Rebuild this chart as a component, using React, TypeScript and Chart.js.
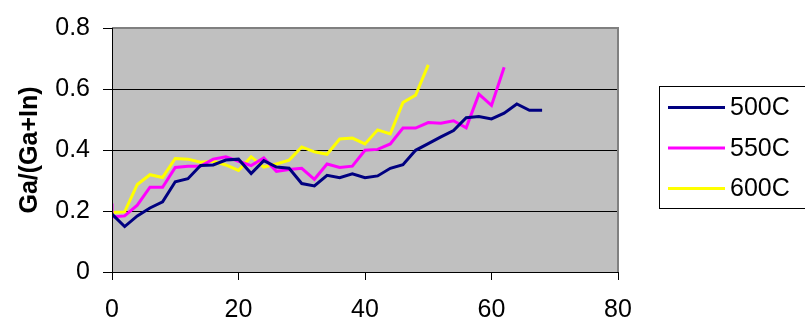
import React, { useEffect, useRef } from "react";
import { Chart, registerables } from "chart.js";

Chart.register(...registerables);

const seriesNames = ["500C", "550C", "600C"];
const seriesColors = ["#000080", "#FF00FF", "#FFFF00"];

const x500 = [0, 2, 4, 6, 8, 10, 12, 14, 16, 18, 20, 22, 24, 26, 28, 30, 32, 34, 36, 38, 40, 42, 44, 46, 48, 50, 52, 54, 56, 58, 60, 62, 64, 66, 68];
const y500 = [0.19, 0.149, 0.184, 0.21, 0.23, 0.296, 0.306, 0.349, 0.351, 0.367, 0.37, 0.323, 0.365, 0.344, 0.34, 0.29, 0.282, 0.317, 0.309, 0.322, 0.309, 0.315, 0.34, 0.352, 0.399, 0.421, 0.443, 0.464, 0.506, 0.51, 0.502, 0.521, 0.551, 0.53, 0.53];

const x550 = [0, 0, 2, 4, 6, 8, 10, 12, 14, 16, 18, 20, 22, 24, 26, 28, 30, 32, 34, 36, 38, 40, 42, 44, 46, 48, 50, 52, 54, 56, 58, 60, 62];
const y550 = [0.225, 0.18, 0.184, 0.219, 0.278, 0.278, 0.343, 0.347, 0.347, 0.37, 0.378, 0.363, 0.349, 0.374, 0.33, 0.336, 0.34, 0.304, 0.354, 0.343, 0.347, 0.399, 0.402, 0.42, 0.472, 0.472, 0.49, 0.488, 0.496, 0.473, 0.583, 0.546, 0.671];

const x600 = [0, 2, 4, 6, 8, 10, 12, 14, 16, 18, 20, 22, 24, 26, 28, 30, 32, 34, 36, 38, 40, 42, 44, 46, 48, 50];
const y600 = [0.195, 0.197, 0.287, 0.319, 0.31, 0.372, 0.37, 0.36, 0.363, 0.351, 0.333, 0.378, 0.344, 0.354, 0.367, 0.41, 0.394, 0.386, 0.436, 0.439, 0.42, 0.466, 0.453, 0.556, 0.58, 0.679];

const xTicks = [0, 20, 40, 60, 80];
const yTicks = [0, 0.2, 0.4, 0.6, 0.8];
const yTitle = "Ga/(Ga+In)";

const FONT = "'Liberation Sans', Arial, sans-serif";

const pairs = (xs: number[], ys: number[]) => xs.map((x, i) => ({ x, y: ys[i] }));

const plotFrame = {
  id: "plotFrame",
  beforeDatasetsDraw(chart: any) {
    const { ctx, chartArea: a } = chart;
    ctx.save();
    ctx.fillStyle = "#C0C0C0";
    ctx.fillRect(a.left, a.top, a.right - a.left, a.bottom - a.top);
    // redraw horizontal grid lines over the fill
    const ys = chart.scales.y;
    ctx.strokeStyle = "#000";
    ctx.lineWidth = 1;
    for (const v of yTicks) {
      if (v === 0 || v === 0.8) continue;
      const py = Math.round(ys.getPixelForValue(v)) + 0.5;
      ctx.beginPath();
      ctx.moveTo(a.left, py);
      ctx.lineTo(a.right, py);
      ctx.stroke();
    }
    ctx.restore();
  },
  afterDraw(chart: any) {
    const { ctx, chartArea: a } = chart;
    ctx.save();
    ctx.strokeStyle = "#808080";
    ctx.lineWidth = 2;
    ctx.beginPath();
    ctx.moveTo(a.left, a.top);
    ctx.lineTo(a.right, a.top);
    ctx.lineTo(a.right, a.bottom);
    ctx.stroke();
    ctx.strokeStyle = "#000";
    ctx.lineWidth = 1;
    ctx.beginPath();
    ctx.moveTo(a.left + 0.5, a.top);
    ctx.lineTo(a.left + 0.5, a.bottom + 0.5);
    ctx.lineTo(a.right, a.bottom + 0.5);
    ctx.stroke();

    // legend
    const bx = 659.5, by = 86.5, bb = 208.5;
    ctx.strokeStyle = "#000";
    ctx.lineWidth = 1;
    ctx.strokeRect(bx, by, 806 - bx, bb - by);
    chart.data.datasets.forEach((ds: any, i: number) => {
      const ly = 107.5 + 40.5 * i;
      ctx.strokeStyle = ds.borderColor;
      ctx.lineWidth = 3;
      ctx.beginPath();
      ctx.moveTo(668, ly);
      ctx.lineTo(725, ly);
      ctx.stroke();
      ctx.fillStyle = "#000";
      ctx.font = `25px ${FONT}`;
      ctx.textBaseline = "middle";
      ctx.textAlign = "left";
      ctx.fillText(ds.label, 730, ly + 1);
    });
    ctx.restore();
  },
};

export default function App() {
  const ref = useRef<HTMLCanvasElement>(null);
  useEffect(() => {
    if (!ref.current) return;
    const chart = new Chart(ref.current, {
      type: "line",
      data: {
        datasets: [
          { label: seriesNames[0], data: pairs(x500, y500), borderColor: seriesColors[0] },
          { label: seriesNames[1], data: pairs(x550, y550), borderColor: seriesColors[1] },
          { label: seriesNames[2], data: pairs(x600, y600), borderColor: seriesColors[2] },
        ].map((d) => ({ ...d, borderWidth: 3, pointRadius: 0, tension: 0, fill: false })),
      },
      options: {
        responsive: false,
        animation: false,
        layout: { padding: { top: 21, right: 187, left: 0, bottom: 0 } },
        plugins: { legend: { display: false }, tooltip: { enabled: false } },
        scales: {
          x: {
            type: "linear",
            min: 0,
            max: 80,
            afterBuildTicks: (s: any) => { s.ticks = xTicks.map((v) => ({ value: v })); },
            afterFit: (s: any) => { s.height = 55; },
            grid: { drawOnChartArea: false, tickLength: 8, tickColor: "#000" },
            border: { display: true, color: "#000" },
            ticks: { color: "#000", font: { family: FONT, size: 25 }, padding: 15, maxRotation: 0 },
          },
          y: {
            min: 0,
            max: 0.8,
            afterBuildTicks: (s: any) => { s.ticks = yTicks.map((v) => ({ value: v })); },
            afterFit: (s: any) => { s.width = 112; },
            grid: { drawOnChartArea: false, tickLength: 9, tickColor: "#000" },
            border: { display: true, color: "#000" },
            ticks: { color: "#000", font: { family: FONT, size: 25 }, padding: 13 },
            title: {
              display: true,
              text: yTitle,
              color: "#000",
              font: { family: FONT, size: 25, weight: "bold", lineHeight: 1.2 },
              padding: { top: 15, bottom: 0 },
            },
          },
        },
      },
      plugins: [plotFrame],
    });
    return () => chart.destroy();
  }, []);
  return (
    <div style={{ position: "fixed", left: 0, top: 0, width: 805, height: 327, background: "#fff" }}>
      <canvas ref={ref} width={805} height={327} style={{ width: 805, height: 327, display: "block" }} />
    </div>
  );
}
